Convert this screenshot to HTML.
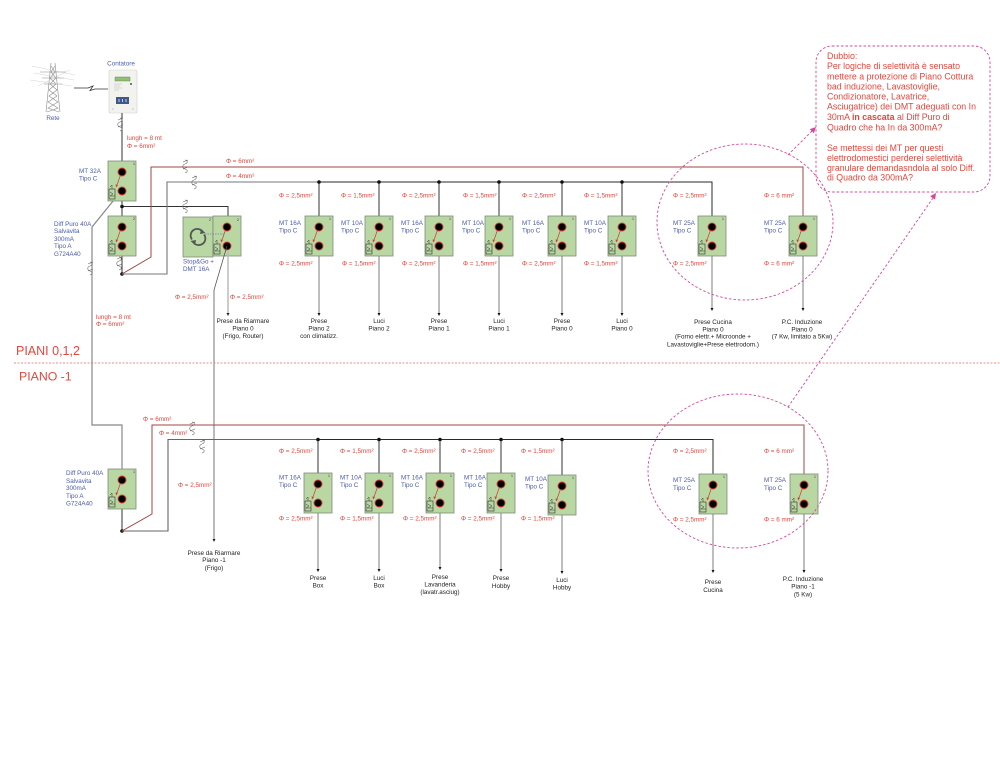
<!DOCTYPE html>
<html><head><meta charset="utf-8">
<style>
html,body{margin:0;padding:0;background:#fff;}
svg{display:block;}
text{font-family:"Liberation Sans",sans-serif;}
.r{fill:#e5463c;font-size:6.3px;}
.b{fill:#4b5bab;font-size:6.3px;}
.k{fill:#222;font-size:6.3px;text-anchor:middle;}
.n{fill:#333;font-size:3.5px;}
.c{fill:#e5463c;font-size:8.8px;}
</style></head><body>
<svg width="1000" height="773" viewBox="0 0 1000 773" xmlns="http://www.w3.org/2000/svg">
<defs>
<g id="brk">
 <rect x="-14" y="0" width="28" height="40" fill="#b8d7a2" stroke="#7f8c7a" stroke-width="0.8"/>
 <line x1="-1.5" y1="14" x2="-5" y2="24" stroke="#d03a30" stroke-width="0.7"/>
 <path d="M-6,26.5 l-0.4,-3.2 l2.3,0.9 z" fill="#d03a30"/>
 <circle cx="0" cy="11" r="4" fill="#000" stroke="#e03a30" stroke-width="0.9"/>
 <circle cx="0" cy="30" r="4" fill="#000" stroke="#e03a30" stroke-width="0.9"/>
 <rect x="-13" y="28" width="6" height="10" fill="none" stroke="#333" stroke-width="0.6"/>
 <path d="M-10,24 v4 M-12,26 l2,-2 M-12,35 l3,-2 l-3,-2 M-12,35 h5" fill="none" stroke="#333" stroke-width="0.5"/>
</g>
<g id="cm">
 <path d="M-1,-6 c3,0 3,3 0,4 c-3,1 -3,4 0,5 c3,1 3,3 0,4 M-3,-4 l5,-2 M-3,3 l5,-2" fill="none" stroke="#666" stroke-width="0.6"/>
</g>
</defs>

<!-- Pylon -->
<g stroke="#8a8a8a" stroke-width="0.6" fill="none">
 <path d="M51,63 L46,112 M55,63 L60,112"/>
 <path d="M40,72 H66 M42,78 H64 M44,84 H62"/>
 <path d="M51,66 L55,72 L50,78 L56,84 L49,90 L57,96 L48,102 L58,108 L47,112"/>
 <path d="M55,66 L51,72 L56,78 L50,84 L57,90 L49,96 L58,102 L48,108 L59,112"/>
 <path d="M32,66 L75,75 M34,73 L74,80 M30,80 L72,86 M38,86 L70,70" stroke="#c8c8c8" stroke-width="0.4"/>
</g>
<text x="53" y="120" class="b" text-anchor="middle">Rete</text>
<!-- link -->
<path d="M74,88 H88 L93,86 L90,90.5 L95,89 H108" fill="none" stroke="#333" stroke-width="0.8"/>
<!-- Meter -->
<text x="121" y="65.5" class="b" text-anchor="middle">Contatore</text>
<rect x="109" y="70" width="28" height="43" rx="1.5" fill="#f2f2ee" stroke="#cfcfcf" stroke-width="0.6"/>
<rect x="115" y="77" width="15" height="4" fill="#8fc26c" stroke="#666" stroke-width="0.4"/>
<path d="M114,84 h8 M114,86 h6 M114,88 h8 M114,90 h5" stroke="#bbb" stroke-width="0.6"/>
<circle cx="131" cy="84" r="0.9" fill="#222"/>
<rect x="116" y="97" width="13" height="7" fill="#3d5a8a"/>
<path d="M119,99 v3 M122.5,99 v3 M126,99 v3" stroke="#fff" stroke-width="0.7"/>
<path d="M112,109 h2 M132,109 h2" stroke="#999" stroke-width="0.5"/>

<!-- left wiring top -->
<line x1="122" y1="113" x2="122" y2="171" stroke="#333" stroke-width="1"/>
<use href="#cm" x="121" y="124"/>
<text x="127" y="140.2" class="r">lungh = 8 mt</text>
<text x="127" y="147.9" class="r">Φ = 6mm²</text>
<line x1="122" y1="190" x2="122" y2="227" stroke="#333" stroke-width="1"/>
<line x1="122" y1="246" x2="122" y2="274" stroke="#333" stroke-width="1"/>
<use href="#cm" x="120" y="263"/>
<path d="M122,206.5 H228 V227" fill="none" stroke="#333" stroke-width="1"/>
<use href="#cm" x="186" y="206"/>
<circle cx="122" cy="206.5" r="1.8" fill="#111"/>
<circle cx="122" cy="274" r="1.8" fill="#111"/>
<path d="M122,274 L151,257 V167 H803 V227" fill="none" stroke="#a04646" stroke-width="1"/>
<use href="#cm" x="186" y="166"/>
<path d="M122,274 H167 V182 H319" fill="none" stroke="#777" stroke-width="1.1"/>
<path d="M319,182 H712 V227" fill="none" stroke="#2a2a2a" stroke-width="1"/>
<use href="#cm" x="195" y="182"/>
<text x="226" y="162.9" class="r">Φ = 6mm²</text>
<text x="226" y="178.2" class="r">Φ = 4mm²</text>

<path d="M122,190 L92,227 V425 H122 V480" fill="none" stroke="#888" stroke-width="1.2"/>
<use href="#cm" x="91" y="268"/>
<text x="96" y="319" class="r">lungh = 8 mt</text>
<text x="96" y="326.2" class="r">Φ = 6mm²</text>

<use href="#brk" x="122" y="161"/>
<text x="133" y="165" class="n">1</text>
<text x="79" y="172.9" class="b">MT 32A</text>
<text x="79" y="180.5" class="b">Tipo C</text>
<use href="#brk" x="122" y="216"/>
<text x="133" y="220" class="n">2</text>
<text x="54" y="225.9" class="b">Diff Puro 40A</text>
<text x="54" y="233.2" class="b">Salvavita</text>
<text x="54" y="240.9" class="b">300mA</text>
<text x="54" y="248.2" class="b">Tipo A</text>
<text x="54" y="255.9" class="b">G724A40</text>

<!-- Stop&Go -->
<rect x="183" y="217" width="30" height="40" fill="#b8d7a2" stroke="#7f8c7a" stroke-width="0.8"/>
<use href="#brk" x="227" y="216"/>
<text x="209" y="221" class="n">2</text>
<text x="237" y="221" class="n">2</text>
<line x1="205" y1="234" x2="224" y2="234" stroke="#4b5bab" stroke-width="0.6" stroke-dasharray="1.5,1"/>
<path d="M192,239.5 A6.5,6.5 0 0 1 202.5,231.5" fill="none" stroke="#555" stroke-width="1.8"/>
<path d="M204,234.5 A6.5,6.5 0 0 1 193.5,242.5" fill="none" stroke="#555" stroke-width="1.8"/>
<path d="M201,229 L205.5,233 L200,234 z" fill="#555"/>
<path d="M195,245 L190.5,241 L196,240 z" fill="#555"/>
<text x="183" y="263.5" class="b">Stop&amp;Go +</text>
<text x="183" y="270.9" class="b">DMT 16A</text>
<line x1="228" y1="250" x2="228" y2="313" stroke="#bbb" stroke-width="1.5"/>
<path d="M226.5,313 H229.5 L228,316 z" fill="#222"/>
<path d="M227,246 L214,290 V539" fill="none" stroke="#555" stroke-width="0.8"/>
<path d="M212.5,539 H215.5 L214,542 z" fill="#222"/>
<text x="175" y="299" class="r">Φ = 2,5mm²</text>
<text x="230" y="299" class="r">Φ = 2,5mm²</text>
<text x="243" y="323.2" class="k">Prese da Riarmare</text>
<text x="243" y="330.5" class="k">Piano 0</text>
<text x="243" y="338.2" class="k">(Frigo, Router)</text>
<text x="214" y="554.9" class="k">Prese da Riarmare</text>
<text x="214" y="562.2" class="k">Piano -1</text>
<text x="214" y="569.9" class="k">(Frigo)</text>
<text x="178" y="487.2" class="r">Φ = 2,5mm²</text>

<!-- top row breakers -->
<g stroke="#333" stroke-width="1">
 <line x1="319" y1="182" x2="319" y2="227"/>
 <line x1="379" y1="182" x2="379" y2="227"/>
 <line x1="439" y1="182" x2="439" y2="227"/>
 <line x1="499" y1="182" x2="499" y2="227"/>
 <line x1="562" y1="182" x2="562" y2="227"/>
 <line x1="622" y1="182" x2="622" y2="227"/>
</g>
<g stroke="#888" stroke-width="1.1">
 <line x1="319" y1="246" x2="319" y2="313"/>
 <line x1="379" y1="246" x2="379" y2="313"/>
 <line x1="439" y1="246" x2="439" y2="313"/>
 <line x1="499" y1="246" x2="499" y2="313"/>
 <line x1="562" y1="246" x2="562" y2="313"/>
 <line x1="622" y1="246" x2="622" y2="313"/>
 <line x1="712" y1="246" x2="712" y2="308"/>
 <line x1="803" y1="246" x2="803" y2="308"/>
</g>
<g fill="#111">
 <circle cx="319" cy="182" r="1.8"/><circle cx="379" cy="182" r="1.8"/><circle cx="439" cy="182" r="1.8"/>
 <circle cx="499" cy="182" r="1.8"/><circle cx="562" cy="182" r="1.8"/><circle cx="622" cy="182" r="1.8"/>
 <path d="M317.5,313 H320.5 L319,316 z M377.5,313 H380.5 L379,316 z M437.5,313 H440.5 L439,316 z M497.5,313 H500.5 L499,316 z M560.5,313 H563.5 L562,316 z M620.5,313 H623.5 L622,316 z M710.5,308 H713.5 L712,311 z M801.5,308 H804.5 L803,311 z"/>
</g>
<use href="#brk" x="319" y="216"/><text x="329" y="220" class="n">1</text>
<use href="#brk" x="379" y="216"/><text x="389" y="220" class="n">1</text>
<use href="#brk" x="439" y="216"/><text x="449" y="220" class="n">1</text>
<use href="#brk" x="499" y="216"/><text x="509" y="220" class="n">1</text>
<use href="#brk" x="562" y="216"/><text x="572" y="220" class="n">1</text>
<use href="#brk" x="622" y="216"/><text x="632" y="220" class="n">1</text>
<use href="#brk" x="712" y="216"/><text x="722" y="220" class="n">1</text>
<use href="#brk" x="803" y="216"/><text x="813" y="220" class="n">1</text>

<text x="279" y="197.5" class="r">Φ = 2,5mm²</text>
<text x="279" y="225.2" class="b">MT 16A</text><text x="279" y="232.7" class="b">Tipo C</text>
<text x="279" y="265.5" class="r">Φ = 2,5mm²</text>
<text x="341" y="197.5" class="r">Φ = 1,5mm²</text>
<text x="341" y="225.2" class="b">MT 10A</text><text x="341" y="232.7" class="b">Tipo C</text>
<text x="342" y="265.5" class="r">Φ = 1,5mm²</text>
<text x="402" y="197.5" class="r">Φ = 2,5mm²</text>
<text x="401" y="225.2" class="b">MT 16A</text><text x="401" y="232.7" class="b">Tipo C</text>
<text x="402" y="265.5" class="r">Φ = 2,5mm²</text>
<text x="463" y="197.5" class="r">Φ = 1,5mm²</text>
<text x="462" y="225.2" class="b">MT 10A</text><text x="462" y="232.7" class="b">Tipo C</text>
<text x="463" y="265.5" class="r">Φ = 1,5mm²</text>
<text x="522" y="197.5" class="r">Φ = 2,5mm²</text>
<text x="522" y="225.2" class="b">MT 16A</text><text x="522" y="232.7" class="b">Tipo C</text>
<text x="522" y="265.5" class="r">Φ = 2,5mm²</text>
<text x="584" y="197.5" class="r">Φ = 1,5mm²</text>
<text x="584" y="225.2" class="b">MT 10A</text><text x="584" y="232.7" class="b">Tipo C</text>
<text x="584" y="265.5" class="r">Φ = 1,5mm²</text>
<text x="673" y="197.5" class="r">Φ = 2,5mm²</text>
<text x="673" y="225.2" class="b">MT 25A</text><text x="673" y="232.7" class="b">Tipo C</text>
<text x="673" y="265.5" class="r">Φ = 2,5mm²</text>
<text x="764" y="197.5" class="r">Φ = 6 mm²</text>
<text x="764" y="225.2" class="b">MT 25A</text><text x="764" y="232.7" class="b">Tipo C</text>
<text x="764" y="265.5" class="r">Φ = 6 mm²</text>

<text x="319" y="323.2" class="k">Prese</text><text x="319" y="330.5" class="k">Piano 2</text><text x="319" y="338.2" class="k">con climatizz.</text>
<text x="379" y="323.2" class="k">Luci</text><text x="379" y="330.5" class="k">Piano 2</text>
<text x="439" y="323.2" class="k">Prese</text><text x="439" y="330.5" class="k">Piano 1</text>
<text x="499" y="323.2" class="k">Luci</text><text x="499" y="330.5" class="k">Piano 1</text>
<text x="562" y="323.2" class="k">Prese</text><text x="562" y="330.5" class="k">Piano 0</text>
<text x="622" y="323.2" class="k">Luci</text><text x="622" y="330.5" class="k">Piano 0</text>
<text x="713" y="324" class="k">Prese Cucina</text><text x="713" y="331.3" class="k">Piano 0</text>
<text x="713" y="338.7" class="k">(Forno elettr.+ Microonde +</text><text x="713" y="346.3" class="k">Lavastoviglie+Prese elettrodom.)</text>
<text x="802" y="324" class="k">P.C. Induzione</text><text x="802" y="331.3" class="k">Piano 0</text><text x="802" y="338.7" class="k">(7 Kw, limitato a 5Kw)</text>

<!-- floor separator -->
<text x="16" y="355" style="fill:#e5463c;font-size:12.5px">PIANI 0,1,2</text>
<line x1="14" y1="363" x2="1000" y2="363" stroke="#e06a6a" stroke-width="0.7" stroke-dasharray="2,1.5"/>
<text x="19" y="380.5" style="fill:#e5463c;font-size:12.3px">PIANO -1</text>

<!-- bottom section -->
<line x1="122" y1="498" x2="122" y2="531" stroke="#333" stroke-width="1"/>
<use href="#brk" x="122" y="469"/>
<text x="133" y="473" class="n">1</text>
<text x="66" y="475" class="b">Diff Puro 40A</text>
<text x="66" y="483" class="b">Salvavita</text>
<text x="66" y="490.2" class="b">300mA</text>
<text x="66" y="497.9" class="b">Tipo A</text>
<text x="66" y="505.5" class="b">G724A40</text>
<circle cx="122" cy="531" r="1.8" fill="#111"/>
<path d="M122,531 L152,514 V425 H804 V484" fill="none" stroke="#a04646" stroke-width="1"/>
<path d="M122,531 H168 V439.5 H318" fill="none" stroke="#666" stroke-width="1.1"/>
<path d="M318,439.5 H713 V484" fill="none" stroke="#2a2a2a" stroke-width="1"/>
<use href="#cm" x="193" y="428"/>
<use href="#cm" x="203" y="446"/>
<text x="143" y="421" class="r">Φ = 6mm²</text>
<text x="159" y="435.2" class="r">Φ = 4mm²</text>

<g stroke="#333" stroke-width="1">
 <line x1="318" y1="439" x2="318" y2="484"/>
 <line x1="379" y1="439" x2="379" y2="484"/>
 <line x1="440" y1="439" x2="440" y2="484"/>
 <line x1="501" y1="439" x2="501" y2="484"/>
 <line x1="562" y1="439" x2="562" y2="486"/>
</g>
<g stroke="#888" stroke-width="1.1">
 <line x1="318" y1="503" x2="318" y2="569"/>
 <line x1="379" y1="503" x2="379" y2="569"/>
 <line x1="440" y1="503" x2="440" y2="567"/>
 <line x1="501" y1="503" x2="501" y2="569"/>
 <line x1="562" y1="505" x2="562" y2="571"/>
 <line x1="713" y1="504" x2="713" y2="570"/>
 <line x1="804" y1="504" x2="804" y2="570"/>
</g>
<g fill="#111">
 <circle cx="318" cy="439.5" r="1.8"/><circle cx="379" cy="439.5" r="1.8"/><circle cx="440" cy="439.5" r="1.8"/>
 <circle cx="501" cy="439.5" r="1.8"/><circle cx="562" cy="439.5" r="1.8"/>
 <path d="M316.5,569 H319.5 L318,572 z M377.5,569 H380.5 L379,572 z M438.5,567 H441.5 L440,570 z M499.5,569 H502.5 L501,572 z M560.5,571 H563.5 L562,574 z M711.5,570 H714.5 L713,573 z M802.5,570 H805.5 L804,573 z"/>
</g>
<use href="#brk" x="318" y="473"/><text x="328" y="477" class="n">1</text>
<use href="#brk" x="379" y="473"/><text x="389" y="477" class="n">1</text>
<use href="#brk" x="440" y="473"/><text x="450" y="477" class="n">1</text>
<use href="#brk" x="501" y="473"/><text x="511" y="477" class="n">1</text>
<use href="#brk" x="562" y="475"/><text x="572" y="479" class="n">1</text>
<use href="#brk" x="713" y="474"/><text x="723" y="478" class="n">1</text>
<use href="#brk" x="804" y="474"/><text x="814" y="478" class="n">1</text>

<text x="279" y="453.2" class="r">Φ = 2,5mm²</text>
<text x="279" y="479.5" class="b">MT 16A</text><text x="279" y="487" class="b">Tipo C</text>
<text x="279" y="520.5" class="r">Φ = 2,5mm²</text>
<text x="340" y="453.2" class="r">Φ = 1,5mm²</text>
<text x="340" y="479.5" class="b">MT 10A</text><text x="340" y="487" class="b">Tipo C</text>
<text x="340" y="520.5" class="r">Φ = 1,5mm²</text>
<text x="402" y="453.2" class="r">Φ = 2,5mm²</text>
<text x="401" y="479.5" class="b">MT 16A</text><text x="401" y="487" class="b">Tipo C</text>
<text x="403" y="520.5" class="r">Φ = 2,5mm²</text>
<text x="461" y="453.2" class="r">Φ = 2,5mm²</text>
<text x="464" y="479.5" class="b">MT 16A</text><text x="464" y="487" class="b">Tipo C</text>
<text x="461" y="520.5" class="r">Φ = 2,5mm²</text>
<text x="521" y="453.2" class="r">Φ = 1,5mm²</text>
<text x="525" y="481" class="b">MT 10A</text><text x="525" y="488.5" class="b">Tipo C</text>
<text x="521" y="520.5" class="r">Φ = 1,5mm²</text>
<text x="673" y="453.2" class="r">Φ = 2,5mm²</text>
<text x="673" y="482.2" class="b">MT 25A</text><text x="673" y="489.8" class="b">Tipo C</text>
<text x="673" y="521.5" class="r">Φ = 2,5mm²</text>
<text x="764" y="453.2" class="r">Φ = 6 mm²</text>
<text x="764" y="482.2" class="b">MT 25A</text><text x="764" y="489.8" class="b">Tipo C</text>
<text x="764" y="521.5" class="r">Φ = 6 mm²</text>

<text x="318" y="580.2" class="k">Prese</text><text x="318" y="587.7" class="k">Box</text>
<text x="379" y="580.2" class="k">Luci</text><text x="379" y="587.7" class="k">Box</text>
<text x="440" y="579" class="k">Prese</text><text x="440" y="586.5" class="k">Lavanderia</text><text x="440" y="594.2" class="k">(lavatr.asciug)</text>
<text x="501" y="580.2" class="k">Prese</text><text x="501" y="588" class="k">Hobby</text>
<text x="562" y="582.2" class="k">Luci</text><text x="562" y="589.7" class="k">Hobby</text>
<text x="713" y="584.2" class="k">Prese</text><text x="713" y="591.9" class="k">Cucina</text>
<text x="803" y="581" class="k">P.C. Induzione</text><text x="803" y="588.7" class="k">Piano -1</text><text x="803" y="596.5" class="k">(5 Kw)</text>

<!-- highlight ellipses and callout -->
<g fill="none" stroke="#d6479a" stroke-width="0.9" stroke-dasharray="2.5,2">
 <ellipse cx="745" cy="222" rx="88" ry="78"/>
 <ellipse cx="738" cy="471" rx="90" ry="77"/>
 <rect x="816" y="46" width="174" height="146" rx="16"/>
 <line x1="788" y1="155" x2="812" y2="131"/>
 <line x1="788" y1="407" x2="933" y2="198"/>
</g>
<path d="M816,127 L813.9,133.3 L809.7,129.1 z" fill="#d6479a"/>
<path d="M936,193 L935.1,199.6 L930.1,196.2 z" fill="#d6479a"/>

<text class="c">
 <tspan x="827" y="59">Dubbio:</tspan>
 <tspan x="827" y="69.2">Per logiche di selettività è sensato</tspan>
 <tspan x="827" y="79.4">mettere a protezione di Piano Cottura</tspan>
 <tspan x="827" y="89.4">bad induzione, Lavastoviglie,</tspan>
 <tspan x="827" y="99.4">Condizionatore, Lavatrice,</tspan>
 <tspan x="827" y="109.6">Asciugatrice) dei DMT adeguati con In</tspan>
 <tspan x="827" y="120.2">30mA <tspan font-weight="bold">in cascata</tspan> al Diff Puro di</tspan>
 <tspan x="827" y="130.6">Quadro che ha In da 300mA?</tspan>
 <tspan x="827" y="151.2">Se mettessi dei MT per questi</tspan>
 <tspan x="827" y="161.2">elettrodomestici perderei selettività</tspan>
 <tspan x="827" y="170.8">granulare demandasndola al solo Diff.</tspan>
 <tspan x="827" y="180.6">di Quadro da 300mA?</tspan>
</text>
</svg>
</body></html>
